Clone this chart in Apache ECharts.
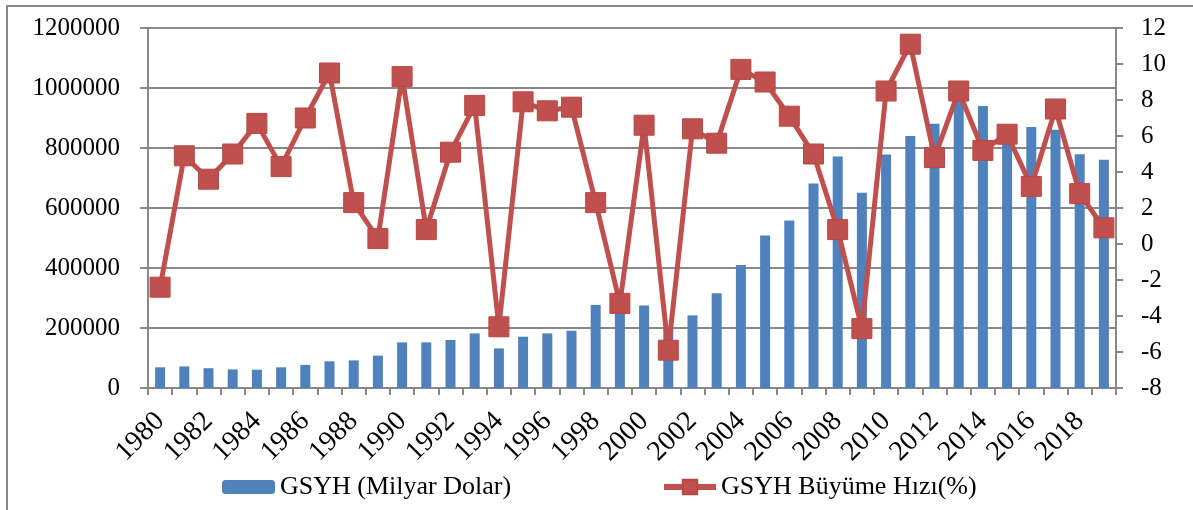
<!DOCTYPE html>
<html>
<head>
<meta charset="utf-8">
<script src="https://cdn.jsdelivr.net/npm/echarts@6/dist/echarts.min.js"></script>
<style>
  html, body { margin: 0; padding: 0; background: #fff; }
  #frame { position: absolute; left: 6px; top: 5px; width: 1200px; height: 520px;
           border-left: 2px solid #888; border-top: 2px solid #888; }
  #chart { position: absolute; left: 0; top: 0; width: 1193px; height: 510px; }
</style>
</head>
<body>
<div id="frame"></div>
<div id="chart"></div>
<script>
  // yillar
  var years = ['1980', '1981', '1982', '1983', '1984', '1985', '1986', '1987', '1988', '1989',
    '1990', '1991', '1992', '1993', '1994', '1995', '1996', '1997', '1998', '1999',
    '2000', '2001', '2002', '2003', '2004', '2005', '2006', '2007', '2008', '2009',
    '2010', '2011', '2012', '2013', '2014', '2015', '2016', '2017', '2018', '2019']

  // GSYH (Milyar Dolar)
  var gsyh = [69000, 72000, 66000, 62000, 61000, 69000, 77000, 89000, 92000, 108000,
    152000, 152000, 160000, 182000, 132000, 171000, 182000, 191000, 277000, 257000,
    275000, 202000, 242000, 316000, 410000, 508000, 558000, 682000, 772000, 651000,
    778000, 840000, 881000, 958000, 940000, 865000, 870000, 861000, 779000, 761000]

  // GSYH Büyüme Hızı(%)
  var buyume = [-2.4, 4.9, 3.6, 5.0, 6.7, 4.3, 7.0, 9.5, 2.3, 0.3,
    9.3, 0.8, 5.1, 7.7, -4.6, 7.9, 7.4, 7.6, 2.3, -3.3,
    6.6, -5.9, 6.4, 5.6, 9.7, 9.0, 7.1, 5.0, 0.8, -4.7,
    8.5, 11.1, 4.8, 8.5, 5.2, 6.1, 3.2, 7.5, 2.8, 0.9]

  var fontFam = 'Liberation Serif'
  var axisGray = '#888888'

  var myEcharts = echarts.init(document.getElementById('chart'))
  var option = {
    animation: false,
    textStyle: { fontFamily: fontFam, color: '#000' },
    grid: { left: 148, right: 77, top: 28, bottom: 122 },
    legend: [
      {
        data: ['GSYH (Milyar Dolar)'],
        left: 217, top: 469,
        itemWidth: 53, itemHeight: 14, itemGap: 6,
        textStyle: { fontFamily: fontFam, fontSize: 26, color: '#000' }
      },
      {
        data: ['GSYH Büyüme Hızı(%)'],
        left: 656, top: 469,
        itemWidth: 52, itemHeight: 18, itemGap: 6,
        lineStyle: { width: 6 },
        textStyle: { fontFamily: fontFam, fontSize: 26, color: '#000' }
      }
    ],
    xAxis: {
      type: 'category',
      data: years,
      boundaryGap: true,
      axisLine: { lineStyle: { color: axisGray, width: 2 } },
      axisTick: { show: true, interval: 0, length: 7, lineStyle: { color: axisGray, width: 2 } },
      axisLabel: {
        interval: 1, rotate: 45, margin: 29,
        fontFamily: fontFam, fontSize: 28, color: '#000'
      }
    },
    yAxis: [
      {
        type: 'value',
        min: 0, max: 1200000, interval: 200000,
        axisLine: { show: true, lineStyle: { color: axisGray, width: 2 } },
        axisTick: { show: true, length: 8, lineStyle: { color: axisGray, width: 2 } },
        splitLine: { lineStyle: { color: axisGray, width: 2 } },
        axisLabel: {
          margin: 28, fontFamily: fontFam, fontSize: 25, color: '#000',
          formatter: function (v) { return String(v) }
        }
      },
      {
        type: 'value',
        min: -8, max: 12, interval: 2,
        axisLine: { show: true, lineStyle: { color: axisGray, width: 2 } },
        axisTick: { show: true, length: 7, lineStyle: { color: axisGray, width: 2 } },
        splitLine: { show: false },
        axisLabel: { margin: 25, fontFamily: fontFam, fontSize: 25, color: '#000' }
      }
    ],
    series: [
      {
        name: 'GSYH (Milyar Dolar)',
        type: 'bar',
        data: gsyh,
        barWidth: 10,
        itemStyle: { color: '#4F81BD' }
      },
      {
        name: 'GSYH Büyüme Hızı(%)',
        type: 'line',
        yAxisIndex: 1,
        data: buyume,
        symbol: 'rect',
        symbolSize: 20,
        showAllSymbol: true,
        z: 3,
        lineStyle: { color: '#C0504D', width: 5 },
        itemStyle: { color: '#C0504D', borderColor: '#B94744', borderWidth: 1 }
      }
    ]
  }
  myEcharts.setOption(option)
</script>
</body>
</html>
